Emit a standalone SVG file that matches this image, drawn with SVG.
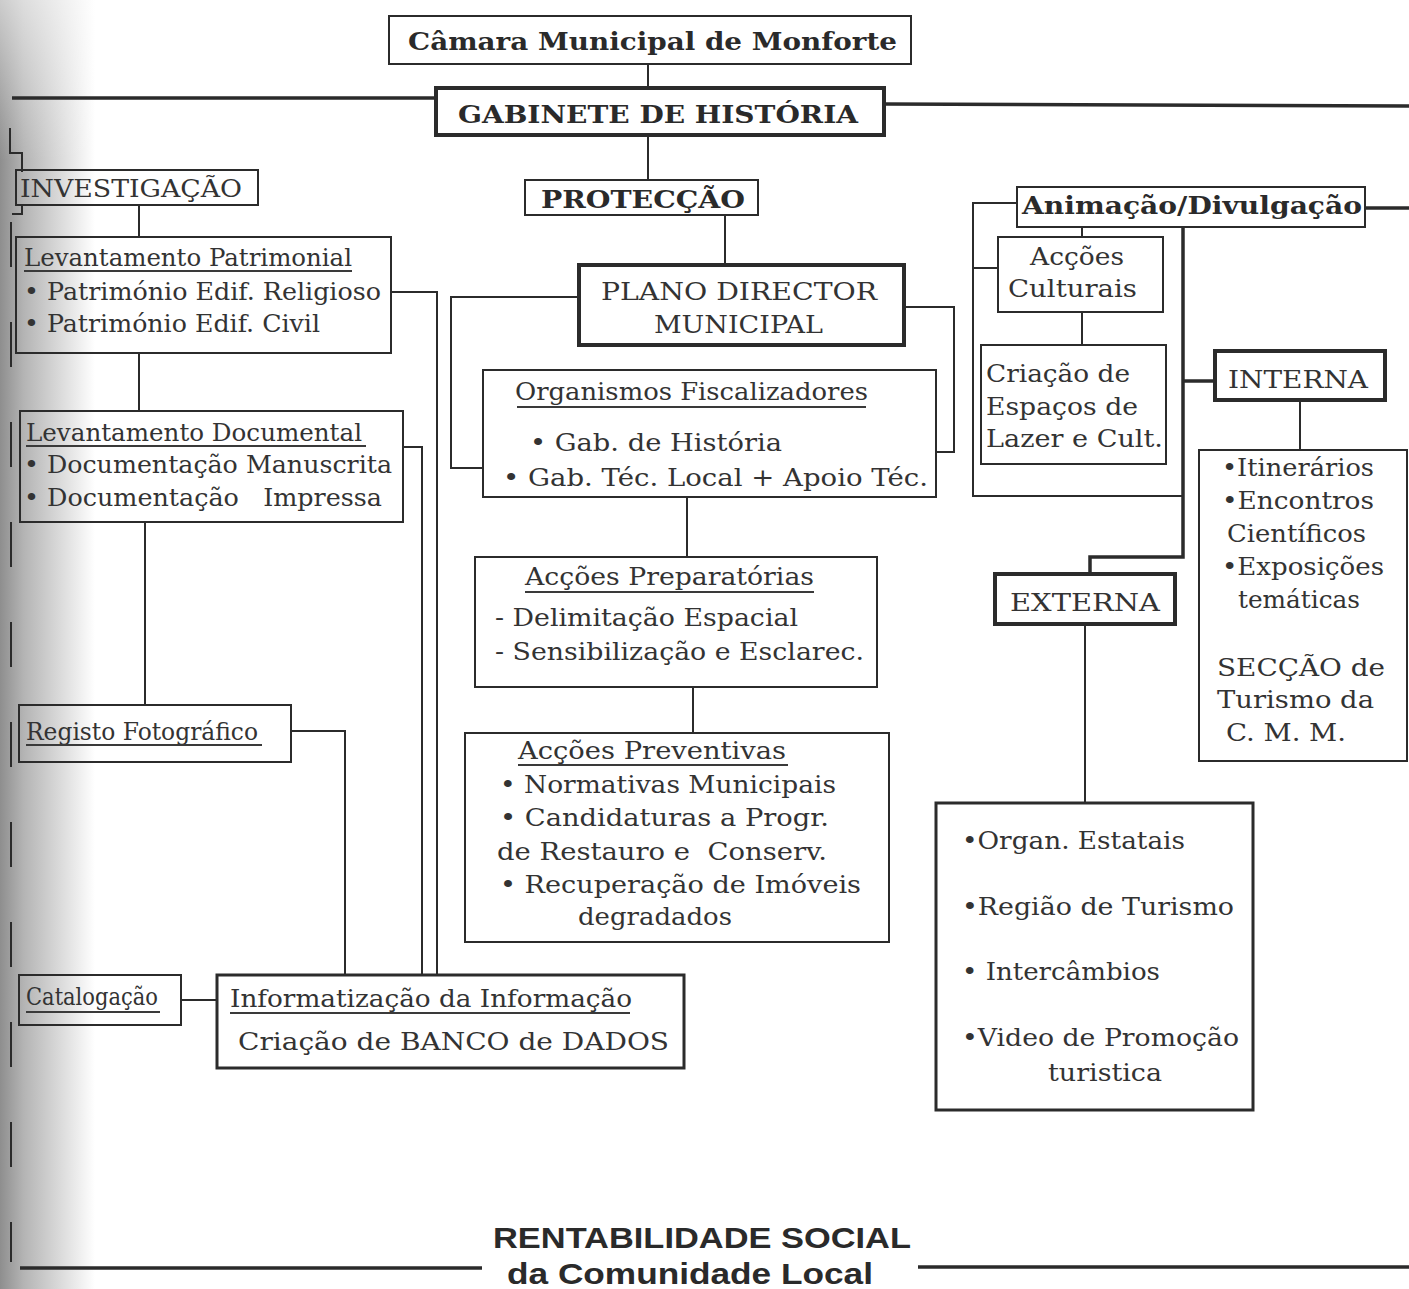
<svg xmlns="http://www.w3.org/2000/svg" width="1409" height="1289" viewBox="0 0 1409 1289">
<defs>
<linearGradient id="shade" x1="0" y1="0" x2="1" y2="0">
<stop offset="0" stop-color="#8e8e8e"/>
<stop offset="0.25" stop-color="#b4b4b4"/>
<stop offset="1" stop-color="#ffffff"/>
</linearGradient>
<linearGradient id="fadeTop" x1="0" y1="0" x2="0" y2="1">
<stop offset="0" stop-color="#ffffff" stop-opacity="0.55"/>
<stop offset="1" stop-color="#ffffff" stop-opacity="0"/>
</linearGradient>
<style>
.box{fill:none;stroke:#2b2b2b;stroke-width:2}
.thk{stroke-width:4}
.med{stroke-width:3}
.c{fill:none;stroke:#2b2b2b;stroke-width:2}
.ct{fill:none;stroke:#2b2b2b;stroke-width:3.5}
.ul{stroke:#3a3a3a;stroke-width:1.8}
.t{font-family:"DejaVu Serif","Liberation Serif",serif;font-size:25px;fill:#333}
.tb{font-family:"DejaVu Serif","Liberation Serif",serif;font-size:25px;font-weight:bold;fill:#2a2a2a}
.ts{font-family:"Liberation Sans","DejaVu Sans",sans-serif;font-size:30px;font-weight:bold;fill:#2a2a2a}
</style>
</defs>
<rect x="0" y="0" width="1409" height="1289" fill="#fff"/>
<rect x="0" y="0" width="95" height="1289" fill="url(#shade)"/>
<rect x="0" y="0" width="95" height="160" fill="url(#fadeTop)"/>

<g id="connectors">
<line class="ct" x1="12" y1="98" x2="436" y2="98"/>
<line class="ct" x1="884" y1="104" x2="1409" y2="106"/>
<line class="ct" x1="20" y1="1268" x2="482" y2="1268"/>
<line class="ct" x1="918" y1="1267" x2="1409" y2="1267"/>
<line class="ct" x1="1365" y1="208" x2="1409" y2="208"/>
<path class="c" d="M10 128 V153 H22 V172 M22 205 V214 H12"/>
<line class="c" x1="11" y1="222" x2="11" y2="1262" stroke-dasharray="45 55"/>
<line class="c" x1="648" y1="64" x2="648" y2="88"/>
<line class="c" x1="648" y1="135" x2="648" y2="180"/>
<line class="c" x1="725" y1="215" x2="725" y2="265"/>
<line class="c" x1="139" y1="205" x2="139" y2="237"/>
<line class="c" x1="139" y1="353" x2="139" y2="411"/>
<line class="c" x1="145" y1="522" x2="145" y2="705"/>
<path class="c" d="M391 292 H437 V975"/>
<path class="c" d="M403 447 H422 V975"/>
<path class="c" d="M291 731 H345 V975"/>
<line class="c" x1="181" y1="1000" x2="217" y2="1000"/>
<path class="c" d="M579 297 H451 V468 H483"/>
<path class="c" d="M904 307 H954 V452 H936"/>
<line class="c" x1="687" y1="497" x2="687" y2="557"/>
<line class="c" x1="693" y1="687" x2="693" y2="733"/>
<path class="c" d="M1017 203 H973 V496 H1183"/>
<line class="c" x1="973" y1="268" x2="998" y2="268"/>
<line class="c" x1="1082" y1="227" x2="1082" y2="237"/>
<line class="c" x1="1082" y1="312" x2="1082" y2="345"/>
<path class="ct" d="M1183 227 V557 H1090 V574"/>
<line class="ct" x1="1183" y1="381" x2="1215" y2="381"/>
<line class="c" x1="1300" y1="400" x2="1300" y2="450"/>
<line class="c" x1="1085" y1="624" x2="1085" y2="803"/>
</g>

<g id="camara">
<rect class="box" x="389" y="16" width="522" height="48"/>
<text class="tb" x="408" y="50" textLength="489" lengthAdjust="spacingAndGlyphs">Câmara Municipal de Monforte</text>
</g>
<g id="gabinete">
<rect class="box thk" x="436" y="88" width="448" height="47"/>
<text class="tb" x="458" y="123" font-size="27" textLength="400" lengthAdjust="spacingAndGlyphs">GABINETE DE HISTÓRIA</text>
</g>

<g id="investigacao">
<rect class="box" x="16" y="170" width="242" height="35"/>
<text class="t" x="20" y="197" textLength="222" lengthAdjust="spacingAndGlyphs">INVESTIGAÇÃO</text>
</g>
<g id="lev-patrimonial">
<rect class="box" x="16" y="237" width="375" height="116"/>
<text class="t" x="24" y="266" textLength="328" lengthAdjust="spacingAndGlyphs">Levantamento Patrimonial</text>
<line class="ul" x1="24" y1="271" x2="352" y2="271"/>
<text class="t" x="24" y="300" textLength="357" lengthAdjust="spacingAndGlyphs">• Património Edif. Religioso</text>
<text class="t" x="24" y="332" textLength="296" lengthAdjust="spacingAndGlyphs">• Património Edif. Civil</text>
</g>
<g id="lev-documental">
<rect class="box" x="20" y="411" width="383" height="111"/>
<text class="t" x="26" y="441" textLength="336" lengthAdjust="spacingAndGlyphs">Levantamento Documental</text>
<line class="ul" x1="26" y1="446" x2="366" y2="446"/>
<text class="t" x="24" y="473" textLength="368" lengthAdjust="spacingAndGlyphs">• Documentação Manuscrita</text>
<text class="t" x="24" y="506" xml:space="preserve" textLength="358" lengthAdjust="spacingAndGlyphs">• Documentação   Impressa</text>
</g>
<g id="registo">
<rect class="box" x="19" y="705" width="272" height="57"/>
<text class="t" x="26" y="740" textLength="232" lengthAdjust="spacingAndGlyphs">Registo Fotográfico</text>
<line class="ul" x1="26" y1="745" x2="262" y2="745"/>
</g>
<g id="catalogacao">
<rect class="box" x="19" y="975" width="162" height="50"/>
<text class="t" x="26" y="1005" font-size="22" textLength="132" lengthAdjust="spacingAndGlyphs">Catalogação</text>
<line class="ul" x1="26" y1="1012" x2="160" y2="1012"/>
</g>
<g id="informatizacao">
<rect class="box med" x="217" y="975" width="467" height="93"/>
<text class="t" x="230" y="1007" textLength="402" lengthAdjust="spacingAndGlyphs">Informatização da Informação</text>
<line class="ul" x1="230" y1="1013" x2="630" y2="1013"/>
<text class="t" x="238" y="1050" textLength="431" lengthAdjust="spacingAndGlyphs">Criação de BANCO de DADOS</text>
</g>

<g id="proteccao">
<rect class="box" x="525" y="180" width="233" height="35"/>
<text class="tb" x="541" y="208" textLength="204" lengthAdjust="spacingAndGlyphs">PROTECÇÃO</text>
</g>
<g id="plano">
<rect class="box thk" x="579" y="265" width="325" height="80"/>
<text class="t" x="601" y="300" font-size="27" textLength="276" lengthAdjust="spacingAndGlyphs">PLANO DIRECTOR</text>
<text class="t" x="654" y="333" font-size="27" textLength="169" lengthAdjust="spacingAndGlyphs">MUNICIPAL</text>
</g>
<g id="organismos">
<rect class="box" x="483" y="370" width="453" height="127"/>
<text class="t" x="515" y="400" textLength="353" lengthAdjust="spacingAndGlyphs">Organismos Fiscalizadores</text>
<line class="ul" x1="517" y1="407" x2="866" y2="407"/>
<text class="t" x="530" y="451" textLength="252" lengthAdjust="spacingAndGlyphs">• Gab. de História</text>
<text class="t" x="503" y="486" textLength="425" lengthAdjust="spacingAndGlyphs">• Gab. Téc. Local + Apoio Téc.</text>
</g>
<g id="preparatorias">
<rect class="box" x="475" y="557" width="402" height="130"/>
<text class="t" x="525" y="585" textLength="289" lengthAdjust="spacingAndGlyphs">Acções Preparatórias</text>
<line class="ul" x1="525" y1="592" x2="814" y2="592"/>
<text class="t" x="495" y="626" textLength="303" lengthAdjust="spacingAndGlyphs">- Delimitação Espacial</text>
<text class="t" x="495" y="660" textLength="369" lengthAdjust="spacingAndGlyphs">- Sensibilização e Esclarec.</text>
</g>
<g id="preventivas">
<rect class="box" x="465" y="733" width="424" height="209"/>
<text class="t" x="518" y="759" textLength="268" lengthAdjust="spacingAndGlyphs">Acções Preventivas</text>
<line class="ul" x1="518" y1="765" x2="788" y2="765"/>
<text class="t" x="500" y="793" textLength="336" lengthAdjust="spacingAndGlyphs">• Normativas Municipais</text>
<text class="t" x="500" y="826" textLength="329" lengthAdjust="spacingAndGlyphs">• Candidaturas a Progr.</text>
<text class="t" x="497" y="860" xml:space="preserve" textLength="330" lengthAdjust="spacingAndGlyphs">de Restauro e  Conserv.</text>
<text class="t" x="500" y="893" textLength="361" lengthAdjust="spacingAndGlyphs">• Recuperação de Imóveis</text>
<text class="t" x="578" y="925" textLength="154" lengthAdjust="spacingAndGlyphs">degradados</text>
</g>

<g id="animacao">
<rect class="box" x="1017" y="187" width="348" height="40"/>
<text class="tb" x="1022" y="214" textLength="340" lengthAdjust="spacingAndGlyphs">Animação/Divulgação</text>
</g>
<g id="accoes-culturais">
<rect class="box" x="998" y="237" width="165" height="75"/>
<text class="t" x="1030" y="265" textLength="94" lengthAdjust="spacingAndGlyphs">Acções</text>
<text class="t" x="1008" y="297" textLength="129" lengthAdjust="spacingAndGlyphs">Culturais</text>
</g>
<g id="criacao">
<rect class="box" x="981" y="345" width="185" height="119"/>
<text class="t" x="986" y="382" textLength="144" lengthAdjust="spacingAndGlyphs">Criação de</text>
<text class="t" x="986" y="415" textLength="152" lengthAdjust="spacingAndGlyphs">Espaços de</text>
<text class="t" x="986" y="447" textLength="177" lengthAdjust="spacingAndGlyphs">Lazer e Cult.</text>
</g>
<g id="interna">
<rect class="box thk" x="1215" y="351" width="170" height="49"/>
<text class="t" x="1228" y="388" font-size="27" textLength="140" lengthAdjust="spacingAndGlyphs">INTERNA</text>
</g>
<g id="interna-lista">
<rect class="box" x="1199" y="450" width="208" height="311"/>
<text class="t" x="1222" y="476" textLength="152" lengthAdjust="spacingAndGlyphs">•Itinerários</text>
<text class="t" x="1222" y="509" textLength="152" lengthAdjust="spacingAndGlyphs">•Encontros</text>
<text class="t" x="1227" y="542" textLength="139" lengthAdjust="spacingAndGlyphs">Científicos</text>
<text class="t" x="1222" y="575" textLength="162" lengthAdjust="spacingAndGlyphs">•Exposições</text>
<text class="t" x="1238" y="608" textLength="122" lengthAdjust="spacingAndGlyphs">temáticas</text>
<text class="t" x="1217" y="676" textLength="168" lengthAdjust="spacingAndGlyphs">SECÇÃO de</text>
<text class="t" x="1217" y="708" textLength="157" lengthAdjust="spacingAndGlyphs">Turismo da</text>
<text class="t" x="1226" y="741" textLength="120" lengthAdjust="spacingAndGlyphs">C. M. M.</text>
</g>
<g id="externa">
<rect class="box thk" x="995" y="574" width="180" height="50"/>
<text class="t" x="1010" y="611" font-size="27" textLength="150" lengthAdjust="spacingAndGlyphs">EXTERNA</text>
</g>
<g id="externa-lista">
<rect class="box med" x="936" y="803" width="317" height="307"/>
<text class="t" x="962" y="849" textLength="223" lengthAdjust="spacingAndGlyphs">•Organ. Estatais</text>
<text class="t" x="962" y="915" textLength="272" lengthAdjust="spacingAndGlyphs">•Região de Turismo</text>
<text class="t" x="962" y="980" textLength="198" lengthAdjust="spacingAndGlyphs">• Intercâmbios</text>
<text class="t" x="962" y="1046" textLength="277" lengthAdjust="spacingAndGlyphs">•Video de Promoção</text>
<text class="t" x="1048" y="1081" textLength="114" lengthAdjust="spacingAndGlyphs">turistica</text>
</g>

<g id="rentabilidade">
<text class="ts" x="493" y="1248" textLength="418" lengthAdjust="spacingAndGlyphs">RENTABILIDADE SOCIAL</text>
<text class="ts" x="507" y="1284" font-size="25" textLength="366" lengthAdjust="spacingAndGlyphs">da Comunidade Local</text>
</g>
</svg>
